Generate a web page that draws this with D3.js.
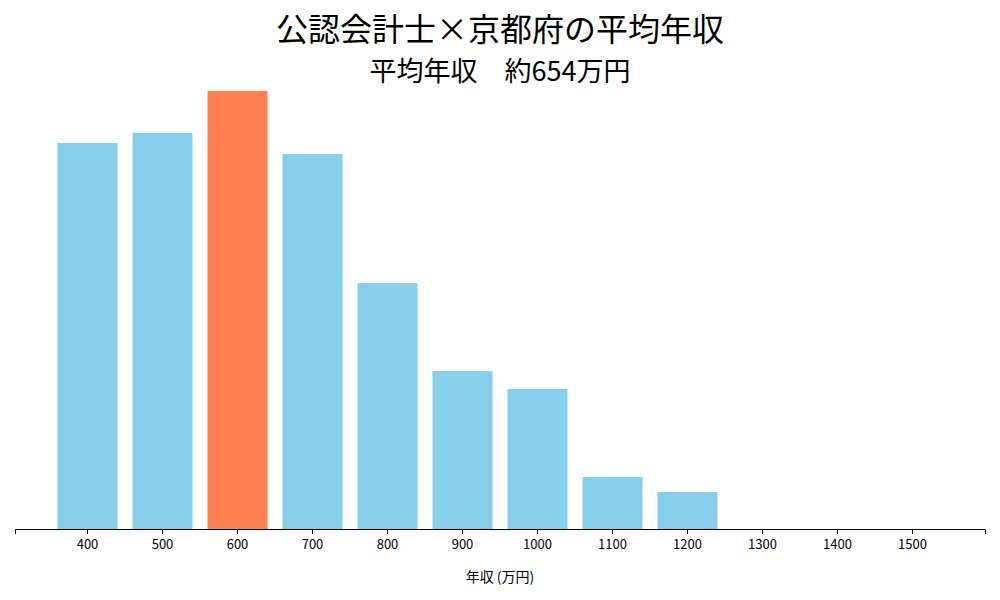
<!DOCTYPE html>
<html><head><meta charset="utf-8">
<script src="https://cdn.jsdelivr.net/npm/d3@7"></script>
<style>body{margin:0;background:#fff}text{font-family:"Noto Sans CJK JP","Noto Sans",sans-serif}</style>
</head><body><div id="chart"></div>
<script>
const categories = [400, 500, 600, 700, 800, 900, 1000, 1100, 1200, 1300, 1400, 1500]
const values = [386, 396, 438, 375, 246, 158, 140, 52, 37, 0, 0, 0]
const highlight = 600
const title = "公認会計士×京都府の平均年収"
const subtitle = "平均年収　約654万円"
const xLabel = "年収 (万円)"

const W = 1000, H = 600
const svg = d3.select("#chart").append("svg").attr("width", W).attr("height", H)

const x = d3.scaleBand().domain(categories).range([15, 985]).paddingInner(0.2).paddingOuter(0.567)
const y = d3.scaleLinear().domain([0, d3.max(values)]).range([529, 91])

svg.selectAll("rect").data(categories).join("rect")
	.attr("x", d => x(d))
	.attr("width", x.bandwidth())
	.attr("y", (d, i) => y(values[i]))
	.attr("height", (d, i) => y(0) - y(values[i]))
	.attr("fill", d => d === highlight ? "#ff7f50" : "#87ceeb")

const ax = svg.append("g").attr("transform", "translate(0,529)")
	.call(d3.axisBottom(x).tickSizeOuter(0).tickSize(5))
ax.select(".domain").attr("stroke", "#000")
ax.selectAll("text").attr("font-size", 13).attr("fill", "#000").attr("dy", "0.9em")

svg.append("text").attr("x", 500).attr("y", 582).attr("text-anchor", "middle").attr("font-size", 14).text(xLabel)
svg.append("text").attr("x", 500).attr("y", 41).attr("text-anchor", "middle").attr("font-size", 32).text(title)
svg.append("text").attr("x", 500).attr("y", 81).attr("text-anchor", "middle").attr("font-size", 27).text(subtitle)
</script></body></html>
